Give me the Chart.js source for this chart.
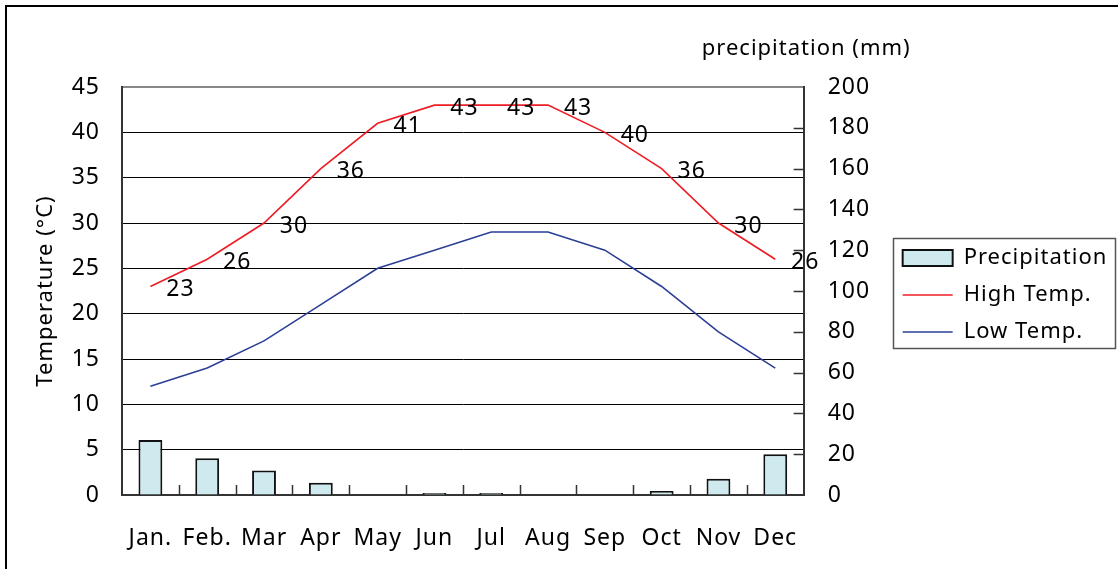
<!DOCTYPE html>
<html>
<head>
<meta charset="utf-8">
<script src="https://cdn.jsdelivr.net/npm/chart.js@4.4.1/dist/chart.umd.min.js"></script>
<style>
  html, body { margin: 0; padding: 0; background: #fff; }
  #wrap { width: 1118px; height: 569px; }
  canvas { display: block; }
</style>
</head>
<body>
<div id="wrap"><canvas id="climate" width="1118" height="569"></canvas></div>
<script>
// Monthly climate values
const months = ['Jan.', 'Feb.', 'Mar', 'Apr', 'May', 'Jun', 'Jul', 'Aug', 'Sep', 'Oct', 'Nov', 'Dec'];
const precipitation = [27, 18, 12, 6, 0, 1, 1, 0, 0, 2, 8, 20];
const highTemp = [23, 26, 30, 36, 41, 43, 43, 43, 40, 36, 30, 26];
const lowTemp = [12, 14, 17, 21, 25, 27, 29, 29, 27, 23, 18, 14];

// Axis ranges and tick steps
const tempAxis = [0, 45, 5];
const precipAxis = [0, 200, 20];

const FONT = '"Noto Sans", "DejaVu Sans", sans-serif';
Chart.defaults.font.family = FONT;
Chart.defaults.font.size = 23;
Chart.defaults.color = '#000';

// Slightly wider letter spacing for all canvas text
const spacingPlugin = {
  id: 'spacing',
  afterInit(chart) { chart.ctx.letterSpacing = '1px'; },
  beforeUpdate(chart) { chart.ctx.letterSpacing = '1px'; },
  beforeDraw(chart) { chart.ctx.letterSpacing = '1px'; }
};

// White background and the outer frame on the left and top
const framePlugin = {
  id: 'frame',
  beforeDraw(chart) {
    const { ctx, width, height } = chart;
    ctx.save();
    ctx.fillStyle = '#fff';
    ctx.fillRect(0, 0, width, height);
    ctx.strokeStyle = '#000';
    ctx.lineWidth = 2;
    ctx.beginPath();
    ctx.moveTo(6, height + 2);
    ctx.lineTo(6, 6);
    ctx.lineTo(width + 2, 6);
    ctx.stroke();
    ctx.restore();
  }
};

// Short inward ticks: category boundaries on the x axis, precipitation steps on the right axis
const innerTicksPlugin = {
  id: 'innerTicks',
  afterDatasetsDraw(chart) {
    const { ctx, chartArea } = chart;
    const xs = chart.scales.x;
    const yr = chart.scales.y1;
    ctx.save();
    ctx.strokeStyle = '#333';
    ctx.lineWidth = 1.5;
    ctx.beginPath();
    for (let i = 1; i < months.length; i++) {
      const px = Math.round((xs.getPixelForTick(i - 1) + xs.getPixelForTick(i)) / 2) + 0.5;
      ctx.moveTo(px, chartArea.bottom);
      ctx.lineTo(px, chartArea.bottom - 10);
    }
    yr.ticks.forEach(t => {
      if (t.value > precipAxis[0] && t.value < precipAxis[1]) {
        const py = Math.round(yr.getPixelForValue(t.value)) + 0.5;
        ctx.moveTo(chartArea.right - 10, py);
        ctx.lineTo(chartArea.right, py);
      }
    });
    ctx.stroke();
    ctx.restore();
  }
};

// Value labels beside the high-temperature line
const highLabelsPlugin = {
  id: 'highLabels',
  afterDatasetsDraw(chart) {
    const meta = chart.getDatasetMeta(1);
    const ctx = chart.ctx;
    ctx.save();
    ctx.font = '23px ' + FONT;
    ctx.fillStyle = '#000';
    ctx.textAlign = 'center';
    ctx.textBaseline = 'middle';
    meta.data.forEach((pt, i) => {
      ctx.fillText(String(highTemp[i]), pt.x + 30, pt.y + 3);
    });
    ctx.restore();
  }
};

// Precipitation unit caption above the right axis
const unitCaptionPlugin = {
  id: 'unitCaption',
  afterDraw(chart) {
    const yr = chart.scales.y1;
    const ctx = chart.ctx;
    ctx.save();
    ctx.font = '22px ' + FONT;
    ctx.fillStyle = '#000';
    ctx.textAlign = 'right';
    ctx.textBaseline = 'middle';
    ctx.fillText('precipitation (mm)', yr.left + 107, 49);
    ctx.restore();
  }
};

// Place the legend right after the precipitation axis, give it the remaining width, and frame it
const legendFramePlugin = {
  id: 'legendFrame',
  afterLayout(chart) {
    const lg = chart.legend;
    lg.left = chart.scales.y1.left + 84;
    lg.right = chart.width;
    lg.width = lg.right - lg.left;
    lg.top += 4;
    lg.bottom += 4;
  },
  afterDraw(chart) {
    const boxes = chart.legend.legendHitBoxes;
    if (!boxes || !boxes.length) return;
    let l = Infinity, t = Infinity, r = -Infinity, b = -Infinity;
    boxes.forEach(h => {
      l = Math.min(l, h.left); t = Math.min(t, h.top);
      r = Math.max(r, h.left + h.width); b = Math.max(b, h.top + h.height);
    });
    const ctx = chart.ctx;
    ctx.save();
    ctx.strokeStyle = '#555';
    ctx.lineWidth = 1.5;
    ctx.strokeRect(Math.round(l - 10) + 0.5, Math.round(t - 9) + 0.5, Math.round(r - l + 17), Math.round(b - t + 14));
    ctx.restore();
  }
};

new Chart(document.getElementById('climate'), {
  data: {
    labels: months,
    datasets: [
      {
        type: 'bar',
        label: 'Precipitation',
        data: precipitation,
        yAxisID: 'y1',
        backgroundColor: '#cfeaef',
        borderColor: '#111',
        borderWidth: 2,
        barPercentage: 0.84,
        categoryPercentage: 0.5,
        pointStyle: 'rect'
      },
      {
        type: 'line',
        label: 'High Temp.',
        data: highTemp,
        yAxisID: 'y',
        borderColor: '#ee1c25',
        borderWidth: 1.6,
        pointRadius: 0,
        tension: 0,
        pointStyle: 'line'
      },
      {
        type: 'line',
        label: 'Low Temp.',
        data: lowTemp,
        yAxisID: 'y',
        borderColor: '#2b3f96',
        borderWidth: 1.6,
        pointRadius: 0,
        tension: 0,
        pointStyle: 'line'
      }
    ]
  },
  options: {
    responsive: false,
    animation: false,
    devicePixelRatio: 1,
    layout: { padding: { top: 87, left: 0, right: 0, bottom: 0 } },
    plugins: {
      tooltip: { enabled: false },
      title: { display: false },
      legend: {
        position: 'right',
        align: 'center',
        fullSize: false,
        labels: {
          usePointStyle: true,
          pointStyleWidth: 50,
          boxHeight: 16,
          padding: 15,
          color: '#000',
          font: { size: 22 }
        }
      }
    },
    scales: {
      x: {
        type: 'category',
        offset: true,
        grid: { display: true, drawOnChartArea: false, drawTicks: false },
        border: { display: true, color: '#333', width: 2 },
        ticks: { padding: 30, maxRotation: 0, autoSkip: false },
        afterFit(s) { s.height = 74; }
      },
      y: {
        type: 'linear',
        position: 'left',
        min: tempAxis[0],
        max: tempAxis[1],
        ticks: { stepSize: tempAxis[2], padding: 22 },
        grid: {
          color: ctx => (ctx.tick && ctx.tick.value === tempAxis[1]) ? '#888' : '#000',
          lineWidth: ctx => (ctx.tick && ctx.tick.value === tempAxis[1]) ? 2 : 1,
          drawTicks: false
        },
        border: { display: true, color: '#333', width: 2 },
        title: {
          display: true,
          text: 'Temperature (°C)',
          font: { size: 22 },
          padding: { top: 33, bottom: 0 }
        },
        afterFit(s) { s.width = 122; }
      },
      y1: {
        type: 'linear',
        position: 'right',
        min: precipAxis[0],
        max: precipAxis[1],
        ticks: { stepSize: precipAxis[2], padding: 24 },
        grid: { display: true, drawOnChartArea: false, drawTicks: false },
        border: { display: true, color: '#333', width: 2 },
        afterFit(s) { s.width = 128; }
      }
    }
  },
  plugins: [spacingPlugin, framePlugin, innerTicksPlugin, highLabelsPlugin, unitCaptionPlugin, legendFramePlugin]
});
</script>
</body>
</html>
